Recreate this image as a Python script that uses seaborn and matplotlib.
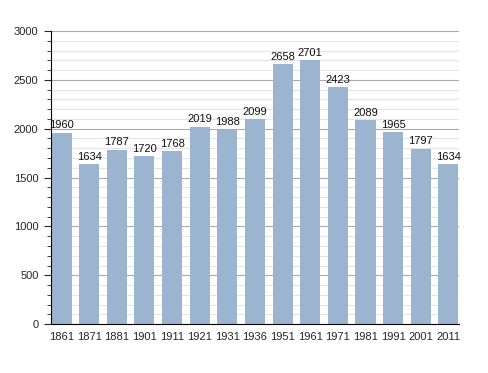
import matplotlib
matplotlib.use("Agg")
import matplotlib.pyplot as plt
import seaborn as sns
import pandas as pd
from matplotlib.ticker import MultipleLocator

years = ["1861", "1871", "1881", "1901", "1911", "1921", "1931", "1936",
         "1951", "1961", "1971", "1981", "1991", "2001", "2011"]
population = [1960, 1634, 1787, 1720, 1768, 2019, 1988, 2099,
              2658, 2701, 2423, 2089, 1965, 1797, 1634]

df = pd.DataFrame({"year": years, "pop": population})

sns.set_style("white")
plt.rcParams['font.family'] = ['Liberation Sans', 'DejaVu Sans']

fig = plt.figure(figsize=(4.88, 3.73), dpi=100)
ax = fig.add_axes([0.1045, 0.131, 0.836, 0.786])

# grid first so bars sit over it
ax.set_axisbelow(True)
ax.yaxis.set_major_locator(MultipleLocator(500))
ax.yaxis.set_minor_locator(MultipleLocator(100))
ax.grid(axis="y", which="major", color="#aaaaaa", linewidth=0.8)
ax.grid(axis="y", which="minor", color="#e4e4e4", linewidth=0.8)

bar_w = 0.725
sns.barplot(data=df, x="year", y="pop", color="#9bb4cf", saturation=1,
            width=bar_w, edgecolor="none", ax=ax)

for i, v in enumerate(population):
    ax.text(i, v + 25, str(v), ha="center", va="bottom", fontsize=8,
            color="#111111")

ax.set_ylim(0, 3000)
# bars run edge to edge, no side margin
ax.set_xlim(-bar_w / 2 - 0.02, len(years) - 1 + bar_w / 2 + 0.02)
ax.set_xlabel("")
ax.set_ylabel("")

sns.despine(ax=ax, top=True, right=True)
ax.spines["left"].set_color("black")
ax.spines["bottom"].set_color("black")
ax.spines["left"].set_linewidth(0.8)
ax.spines["bottom"].set_linewidth(0.8)

ax.tick_params(axis="y", which="major", left=True, length=5, width=0.8,
               labelsize=8, pad=4)
ax.tick_params(axis="y", which="minor", left=True, length=3, width=0.6)
ax.tick_params(axis="x", bottom=False, labelsize=8, pad=2)

fig.savefig("out.png", dpi=100)
